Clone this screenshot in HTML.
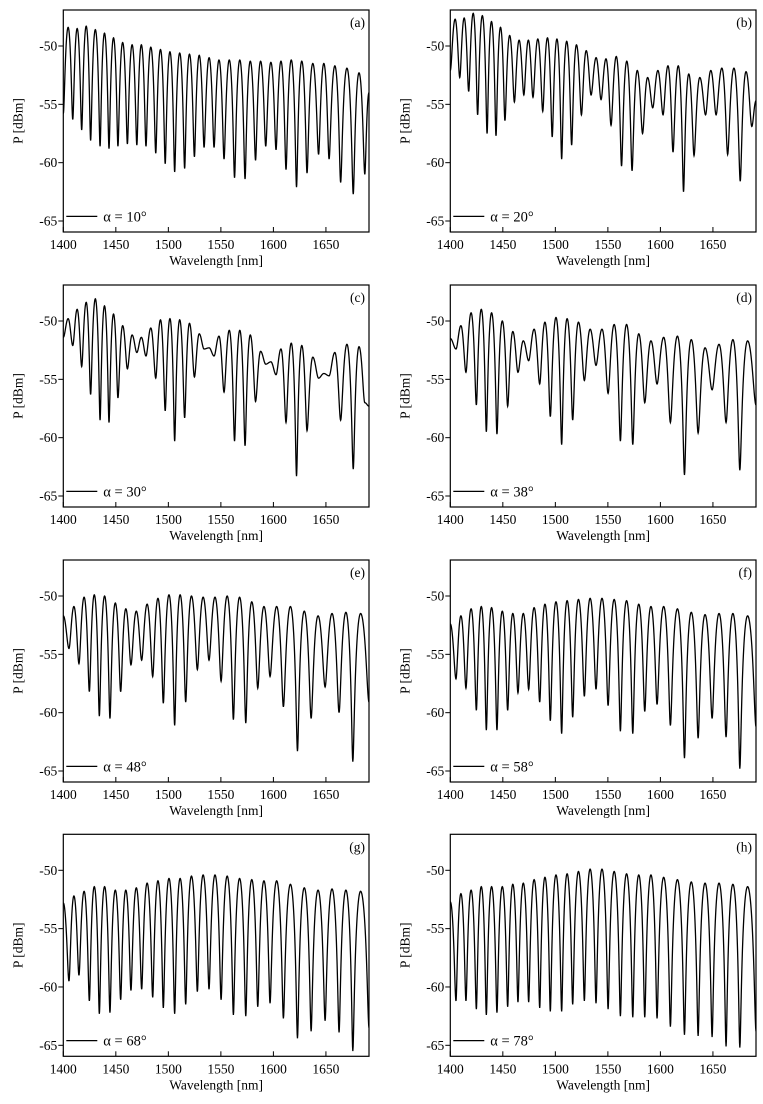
<!DOCTYPE html>
<html><head><meta charset="utf-8"><style>
html,body{margin:0;padding:0;background:#fff;}
svg{display:block;font-family:"Liberation Serif",serif;}
</style></head><body>
<svg id="fig" width="763" height="1104" viewBox="0 0 763 1104" xmlns="http://www.w3.org/2000/svg"></svg>
<script>
// Shared extrema wavelengths (nm)
const troughNmA=[1409,1417.5,1426,1435,1443.5,1452,1461,1470,1478.7,1488,1497,1506,1515.5,1524.8,1534,1543.5,1553,1563,1573,1583,1592.7,1602.5,1612,1622,1632,1643,1653,1664,1676,1687];
const peakNmA=[1404.6,1413.2,1421.8,1430.5,1439.2,1447.8,1456.5,1465.5,1474.3,1483.3,1492.5,1501.5,1510.8,1520.1,1529.4,1538.8,1548.2,1558,1568,1578,1587.8,1597.6,1607.2,1617,1627,1637.5,1648,1658.5,1670,1681.5];
const troughNmB=[1405.4,1414.9,1424.8,1434.3,1444.4,1454.6,1464.4,1474.6,1485.1,1495.2,1506,1516.5,1527.6,1538.7,1550.2,1561.9,1573.7,1585.1,1596.8,1609.5,1622.9,1635.9,1649.2,1662.5,1675.6];
const peakNmB=[1410.1,1419.8,1429.5,1439.3,1449.5,1459.5,1469.5,1479.8,1490.1,1500.6,1511.2,1522,1533.1,1544.4,1556,1567.8,1579.4,1591,1603.1,1616.2,1629.4,1642.5,1655.8,1669,1683];
// Panel values (dBm)
const troughA=[-56.3,-57.2,-58.1,-58.6,-58.8,-58.6,-58.4,-58.5,-58.6,-59.2,-60.1,-60.8,-60.5,-59.5,-58.7,-58.7,-59.7,-61.3,-61.4,-59.8,-58.6,-58.9,-60.6,-62.1,-60.9,-59.3,-59.7,-61.7,-62.7,-61.0];
const peakA=[-48.4,-48.5,-48.3,-48.6,-48.9,-49.3,-49.7,-49.9,-49.9,-50.1,-50.3,-50.5,-50.6,-50.7,-50.8,-51.0,-51.2,-51.2,-51.2,-51.3,-51.3,-51.4,-51.3,-51.2,-51.3,-51.5,-51.5,-51.7,-51.9,-52.3];
const troughB=[-52.7,-53.9,-55.9,-57.5,-57.7,-56.4,-54.8,-54.2,-54.4,-55.6,-57.8,-59.7,-58.5,-55.9,-54.2,-54.6,-56.8,-60.3,-60.7,-57.5,-55.3,-55.9,-59.1,-62.5,-59.4,-55.9,-55.9,-59.3,-61.6,-56.9];
const peakB=[-47.7,-47.6,-47.2,-47.4,-47.9,-48.4,-49.1,-49.5,-49.5,-49.4,-49.3,-49.4,-49.6,-49.9,-50.4,-51.0,-51.1,-50.9,-51.3,-52.1,-52.7,-52.1,-51.7,-51.7,-52.4,-52.7,-52.1,-51.9,-51.9,-52.2];
const troughC=[-52.1,-53.9,-56.3,-58.5,-58.7,-56.6,-54.1,-52.7,-53.0,-54.9,-57.7,-60.3,-58.3,-54.8,-52.4,-53.0,-56.1,-60.3,-60.7,-56.9,-53.7,-54.6,-58.7,-63.3,-59.4,-54.9,-54.7,-58.5,-62.7,-57.0];
const peakC=[-49.8,-49.0,-48.4,-48.1,-48.7,-49.4,-50.4,-51.2,-51.4,-50.6,-49.9,-49.8,-49.9,-50.2,-51.1,-52.3,-51.3,-50.8,-50.8,-51.2,-52.6,-53.5,-52.4,-51.9,-52.1,-53.1,-54.5,-52.7,-52.0,-52.2];
const troughD=[-52.4,-54.4,-57.2,-59.5,-59.7,-57.3,-54.4,-53.4,-55.4,-58.2,-60.6,-58.5,-55.1,-53.8,-56.2,-60.3,-60.6,-57.0,-55.4,-58.7,-63.2,-59.6,-55.9,-58.7,-62.8];
const peakD=[-50.4,-49.3,-49.0,-49.3,-50.0,-50.9,-51.7,-50.7,-50.1,-49.7,-49.8,-50.1,-50.7,-50.7,-50.3,-50.3,-51.1,-51.7,-51.4,-51.3,-51.6,-52.3,-52.0,-51.6,-51.7];
const troughE=[-54.5,-55.8,-58.2,-60.3,-60.5,-58.2,-55.9,-55.5,-56.9,-59.2,-61.1,-59.1,-56.3,-55.5,-57.3,-60.6,-60.9,-57.9,-56.9,-59.5,-63.3,-60.5,-57.8,-60.0,-64.2];
const peakE=[-50.9,-50.1,-49.9,-50.0,-50.6,-51.1,-51.3,-50.7,-50.2,-49.9,-49.9,-50.0,-50.1,-50.1,-50.0,-50.1,-50.5,-50.9,-50.9,-50.9,-51.3,-51.7,-51.5,-51.4,-51.5];
const troughF=[-57.1,-57.9,-59.8,-61.5,-61.5,-59.8,-58.3,-58.0,-59.1,-60.7,-61.8,-60.4,-58.6,-58.0,-59.4,-61.6,-61.8,-59.9,-59.3,-61.1,-63.9,-62.2,-60.5,-62.1,-64.8];
const peakF=[-51.7,-51.1,-50.9,-51.0,-51.3,-51.5,-51.5,-51.0,-50.7,-50.5,-50.4,-50.3,-50.2,-50.2,-50.3,-50.4,-50.7,-50.9,-50.9,-51.1,-51.4,-51.6,-51.5,-51.5,-51.7];
const troughG=[-59.5,-59.0,-61.2,-62.3,-62.2,-61.1,-60.3,-60.2,-60.9,-61.8,-62.3,-61.5,-60.4,-60.2,-61.1,-62.4,-62.5,-61.7,-61.4,-62.7,-64.4,-63.8,-62.9,-63.9,-65.5];
const peakG=[-52.2,-51.8,-51.4,-51.4,-51.7,-51.7,-51.5,-51.1,-50.9,-50.7,-50.7,-50.5,-50.4,-50.4,-50.5,-50.7,-50.8,-50.9,-50.9,-51.2,-51.5,-51.7,-51.6,-51.7,-51.8];
const troughH=[-61.2,-61.2,-61.9,-62.4,-62.2,-61.7,-61.3,-61.3,-61.8,-62.1,-62.1,-61.5,-61.2,-61.4,-61.9,-62.5,-62.6,-62.6,-62.7,-63.4,-64.1,-64.2,-64.3,-65.1,-65.2];
const peakH=[-52.0,-51.7,-51.4,-51.4,-51.4,-51.2,-51.1,-50.8,-50.6,-50.4,-50.3,-50.1,-49.9,-49.9,-50.1,-50.3,-50.4,-50.4,-50.6,-50.8,-51.0,-51.1,-51.1,-51.2,-51.4];
const startDb=[-55.8,-52.1,-51.4,-51.5,-51.7,-52.4,-52.8,-52.7];
const endDb=[-54.0,-54.7,-57.3,-57.2,-59.1,-61.2,-63.5,-63.8];
const angles=[10,20,30,38,48,58,68,78];
const panelLabels=["(a)","(b)","(c)","(d)","(e)","(f)","(g)","(h)"];
const xTicks=[1400,1450,1500,1550,1600,1650];
const yTicks=[-50,-55,-60,-65];

const panels=[
 {tn:troughNmA,pn:peakNmA,t:troughA,p:peakA,first:'peak'},
 {tn:troughNmA,pn:peakNmA,t:troughB,p:peakB,first:'peak'},
 {tn:troughNmA,pn:peakNmA,t:troughC,p:peakC,first:'peak'},
 {tn:troughNmB,pn:peakNmB,t:troughD,p:peakD,first:'trough'},
 {tn:troughNmB,pn:peakNmB,t:troughE,p:peakE,first:'trough'},
 {tn:troughNmB,pn:peakNmB,t:troughF,p:peakF,first:'trough'},
 {tn:troughNmB,pn:peakNmB,t:troughG,p:peakG,first:'trough'},
 {tn:troughNmB,pn:peakNmB,t:troughH,p:peakH,first:'trough'}
];
const NS="http://www.w3.org/2000/svg";
const svg=document.getElementById('fig');
const colL=[63.3,450.3], W=305.7, Y50s=[46,321,596,870.3];
const X0=1400,X1=1691,pxNm=W/(X1-X0),pxDb=11.667;
function mk(tag,attrs,parent){const e=document.createElementNS(NS,tag);for(const k in attrs)e.setAttribute(k,attrs[k]);(parent||svg).appendChild(e);return e;}

panels.forEach((pd,i)=>{
  const L=colL[i%2], Y50=Y50s[Math.floor(i/2)];
  const top=Y50-36, bot=Y50+186;
  const sx=nm=>L+(nm-X0)*pxNm;
  const sy=db=>Y50-(db+50)*pxDb;
  const g=mk('g',{});
  
  
  // extrema sequence
  const ext=[[X0,startDb[i]]];
  if(pd.first==='peak'){
    for(let k=0;k<pd.t.length;k++){ext.push([pd.pn[k],pd.p[k]]);ext.push([pd.tn[k],pd.t[k]]);}
  } else {
    for(let k=0;k<pd.t.length;k++){ext.push([pd.tn[k],pd.t[k]]);ext.push([pd.pn[k],pd.p[k]]);}
  }
  ext.push([X1,endDb[i]]);
  let d='';
  for(let k=0;k<ext.length-1;k++){
    const [xa,ya]=ext[k],[xb,yb]=ext[k+1];
    if(xb<=xa)continue;
    const pa=Math.pow(10,ya/10),pb=Math.pow(10,yb/10);
    const n=24;
    for(let s=(k===0?0:1);s<=n;s++){
      const t=s/n, w=(1-Math.cos(Math.PI*t))/2;
      const pv=pa+(pb-pa)*w, db=10*Math.log10(pv);
      const x=xa+(xb-xa)*t;
      d+=(d?'L':'M')+sx(x).toFixed(2)+' '+sy(db).toFixed(2);
    }
  }
  const cp=mk('clipPath',{id:'cp'+i},g);
  mk('rect',{x:L,y:top,width:W,height:bot-top},cp);
  const line=mk('path',{d:d,fill:'none',stroke:'#000','stroke-width':1.3,'clip-path':'url(#cp'+i+')'},g);
  
  
  const box=mk('rect',{x:L,y:top,width:W,height:bot-top,fill:'none',stroke:'#000','stroke-width':1.2},g);
  
  
  xTicks.forEach(v=>{
    const x=sx(v);
    mk('line',{x1:x,x2:x,y1:bot,y2:bot-5,stroke:'#000','stroke-width':1},g);
    const tl=mk('text',{x:x,y:bot+17,'font-size':13.5,'text-anchor':'middle'},g);
    tl.textContent=v;
    
    
  });
  yTicks.forEach(v=>{
    const y=sy(v);
    mk('line',{x1:L-5,x2:L,y1:y,y2:y,stroke:'#000','stroke-width':1},g);
    const tl=mk('text',{x:L-6,y:y+4.5,'font-size':13.5,'text-anchor':'end'},g);
    tl.textContent=v;
    
    
  });
  const xt=mk('text',{x:L+W/2,y:bot+33,'font-size':13.5,'text-anchor':'middle'},g);
  xt.textContent='Wavelength [nm]';
  
  
  const cy=(top+bot)/2, cx=L-41;
  const yt=mk('text',{x:cx,y:cy,'font-size':13.5,'text-anchor':'middle',transform:'rotate(-90 '+cx+' '+cy+')'},g);
  yt.textContent='P [dBm]';
  
  
  const pl=mk('text',{x:L+W-4,y:top+17,'font-size':13.5,'text-anchor':'end'},g);
  pl.textContent=panelLabels[i];
  
  
  const ly=sy(-64.6);
  const ll=mk('line',{x1:L+3,x2:L+34,y1:ly,y2:ly,stroke:'#000','stroke-width':1.2},g);
  
  
  const lt=mk('text',{x:L+40,y:ly+5,'font-size':14.5},g);
  lt.textContent='\u03b1 = '+angles[i]+'\u00b0';
  
  
});
</script>
</body></html>
